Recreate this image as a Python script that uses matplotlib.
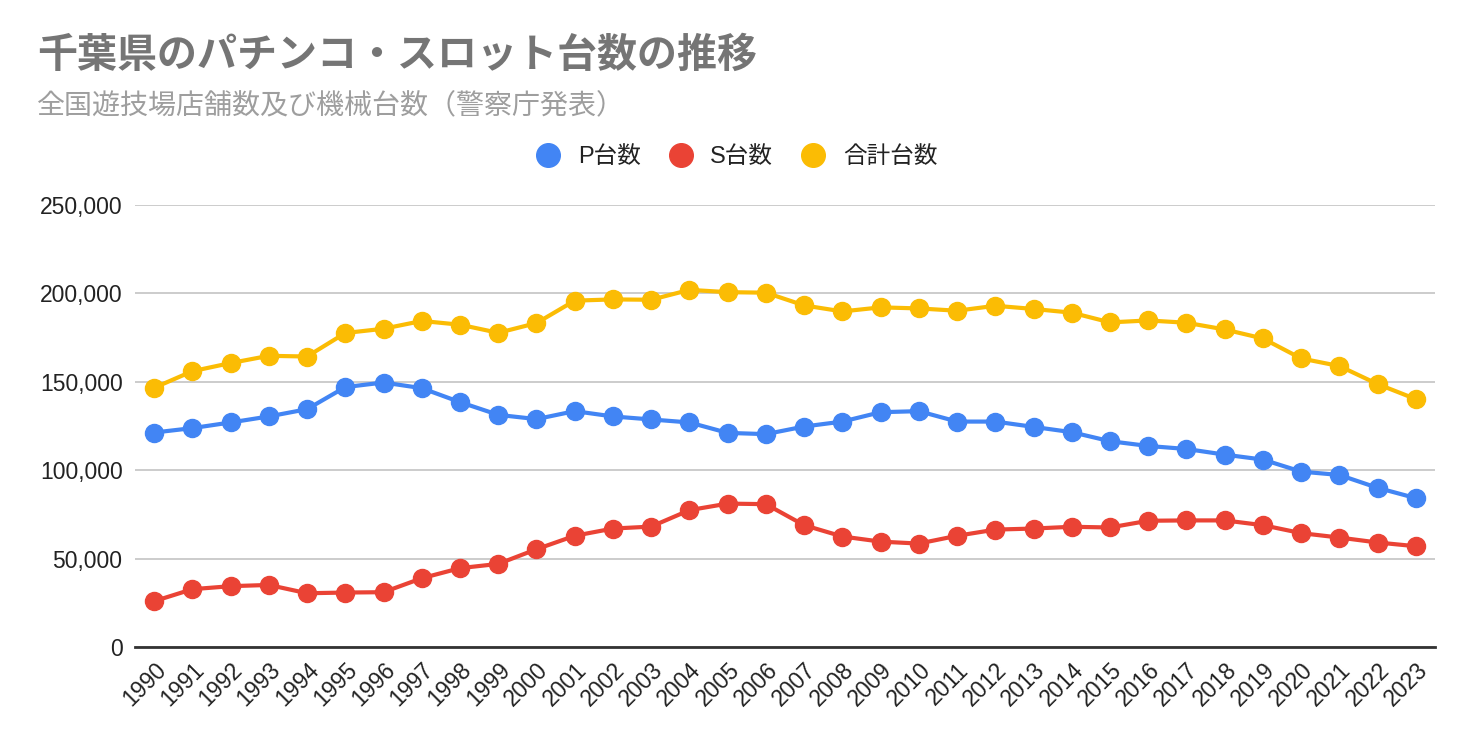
import matplotlib
matplotlib.use("Agg")
import matplotlib.pyplot as plt
from matplotlib.lines import Line2D
from matplotlib.ticker import FuncFormatter

plt.rcParams["font.family"] = ["Liberation Sans", "Noto Sans CJK JP", "DejaVu Sans"]

years = list(range(1990, 2024))

p_units = [121300, 123800, 127000, 130400, 134500, 147000, 149600, 146400, 138500, 131300,
           128900, 133400, 130400, 128700, 127000, 121100, 120400, 124700, 127500, 132800,
           133400, 127500, 127500, 124500, 121500, 116400, 113700, 112000, 108800, 106000,
           99200, 97300, 90000, 84200]
s_units = [25900, 32700, 34400, 35100, 30400, 30800, 31000, 38900, 44600, 47000,
           55300, 62900, 67000, 68100, 77400, 81100, 80800, 68900, 62500, 59600,
           58500, 62900, 66400, 67000, 68000, 67600, 71400, 71600, 71600, 68900,
           64400, 61900, 59100, 57000]
total_units = [146600, 156000, 160600, 164700, 164300, 177600, 180000, 184400, 182300, 177700,
               183200, 195900, 196600, 196400, 202000, 200700, 200400, 193200, 189800, 192100,
               191500, 190200, 193000, 191200, 189100, 183600, 184700, 183400, 179600, 174500,
               163200, 158900, 148700, 140200]

series = [
    ("P台数", p_units, "#4285F4"),
    ("S台数", s_units, "#EA4335"),
    ("合計台数", total_units, "#FBBC04"),
]

fig = plt.figure(figsize=(14.72, 7.42), dpi=100)
ax = fig.add_axes([135 / 1472, 1 - 647 / 742, 1300 / 1472, 442 / 742])

for label, vals, color in series:
    ax.plot(years, vals, color=color, linewidth=3, marker="o", markersize=13,
            label=label, zorder=3, clip_on=False)

ax.set_ylim(0, 250000)
ax.set_xlim(1989.5, 2023.5)
ax.set_yticks(range(0, 250001, 50000))
ax.yaxis.set_major_formatter(FuncFormatter(lambda v, _: f"{int(v):,}"))
ax.set_xticks(years)
ax.set_xticklabels([str(y) for y in years], rotation=45, ha="right",
                   rotation_mode="anchor", fontsize=16.5, color="#222222")
ax.tick_params(axis="y", labelsize=16.5, labelcolor="#222222", length=0, pad=9)
ax.tick_params(axis="x", length=0, pad=8)
ax.grid(axis="y", color="#c8c8c8", linewidth=1.3, zorder=0)
for s in ["top", "right", "left"]:
    ax.spines[s].set_visible(False)
ax.spines["bottom"].set_color("#333333")
ax.spines["bottom"].set_linewidth(2)
ax.spines["bottom"].set_zorder(2)

fig.text(37 / 1472, 1 - 55 / 742, "千葉県のパチンコ・スロット台数の推移",
         fontsize=28.8, fontweight="bold", color="#757575", va="center",
         family=["Noto Sans CJK JP", "DejaVu Sans"])
fig.text(37 / 1472, 1 - 105 / 742, "全国遊技場店舗数及び機械台数（警察庁発表）",
         fontsize=20.2, color="#9e9e9e", va="center",
         family=["Noto Sans CJK JP", "DejaVu Sans"])

handles = [Line2D([], [], linestyle="none", marker="o", markersize=17,
                  color=c, label=l) for l, _, c in series]
fig.legend(handles=handles, loc="center", bbox_to_anchor=(731 / 1472, 1 - 157 / 742),
           ncol=3, frameon=False, fontsize=17, handletextpad=0.25, columnspacing=0.7,
           labelcolor="#222222")

fig.savefig("out.png", dpi=100)
